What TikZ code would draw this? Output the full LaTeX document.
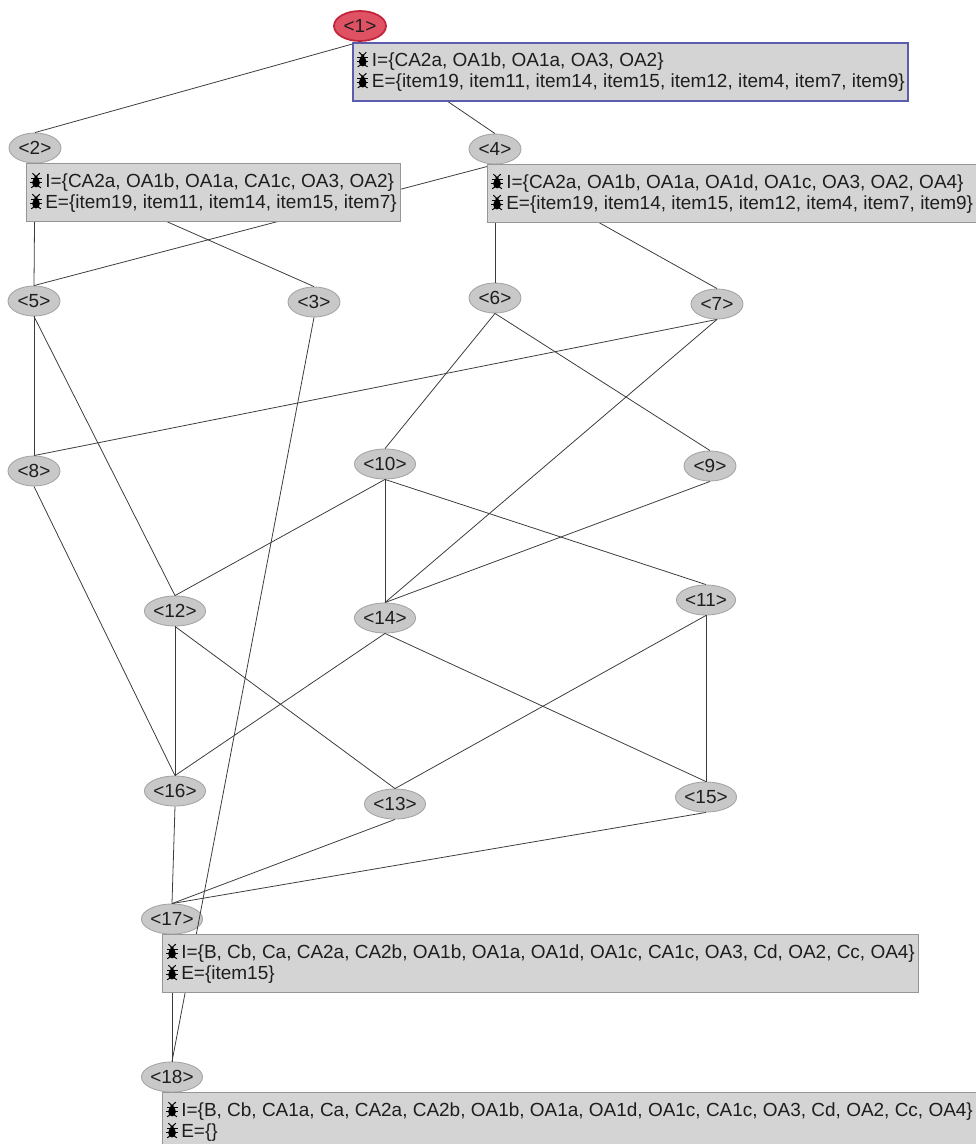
\documentclass[tikz,border=0pt]{standalone}
\usepackage{fontspec}
\setmainfont{Liberation Sans}
\usetikzlibrary{shapes.geometric}
\definecolor{nodefill}{RGB}{200,200,200}
\definecolor{nodeline}{RGB}{165,165,165}
\definecolor{topfill}{RGB}{222,82,100}
\definecolor{topline}{RGB}{196,36,58}
\definecolor{boxfill}{RGB}{212,212,212}
\definecolor{boxline}{RGB}{150,150,150}
\definecolor{selline}{RGB}{92,92,172}
\definecolor{edgecol}{RGB}{60,60,60}
\definecolor{textcol}{RGB}{30,30,30}
\tikzstyle{concept}=[ellipse, draw=nodeline, fill=nodefill, line width=0.5pt, inner sep=0pt, minimum width=1.04cm, minimum height=0.6cm, text=textcol]
\tikzstyle{topconcept}=[concept, draw=topline, fill=topfill, line width=1pt]
\tikzstyle{intent}=[draw=boxline, fill=boxfill, line width=0.5pt, align=left, anchor=north west, inner xsep=2pt, inner ysep=5pt, text=textcol]
\tikzstyle{selintent}=[intent, draw=selline, line width=1.2pt]
\tikzstyle{link}=[draw=edgecol, line width=0.45pt]
\newcommand{\bugicon}{\tikz[x=1pt, y=1pt, baseline=0pt, line width=0.55pt]{
    \fill[black] (3.2,2.9) ellipse (2.2 and 2.7);
    \fill[black] (3.2,6.1) circle (1.1);
    \draw[black] (2.7,6.8) -- (1.1,8.3);
    \draw[black] (3.7,6.8) -- (5.3,8.3);
    \draw[black] (0.1,5.4) -- (6.3,5.4);
    \draw[black] (0,3) -- (6.4,3);
    \draw[black] (0.4,0) -- (3.2,1.8) -- (6,0);}\,}

\begin{document}
\begin{tikzpicture}[x=0.02cm, y=-0.02cm, font=\fontsize{10.8}{12}\selectfont]
        \useasboundingbox (0,0) rectangle (975,1144);
        \node[topconcept] (N1) at (360,26) {<1>};
        \node[concept] (N2) at (35,148) {<2>};
        \node[concept] (N4) at (495,149) {<4>};
        \node[concept] (N5) at (34,301) {<5>};
        \node[concept] (N3) at (314,302) {<3>};
        \node[concept] (N6) at (495,298) {<6>};
        \node[concept] (N7) at (717,304) {<7>};
        \node[concept] (N8) at (34,471) {<8>};
        \node[concept] (N10) at (385,464) {<10>};
        \node[concept] (N9) at (710,466) {<9>};
        \node[concept] (N12) at (175,611) {<12>};
        \node[concept] (N14) at (385,618) {<14>};
        \node[concept] (N11) at (706,600) {<11>};
        \node[concept] (N16) at (175,791) {<16>};
        \node[concept] (N13) at (395,804) {<13>};
        \node[concept] (N15) at (706,797) {<15>};
        \node[concept] (N17) at (172,919) {<17>};
        \node[concept] (N18) at (172,1077) {<18>};
        \draw[link] (N1.south) -- (N2.north);
        \draw[link] (N1.south) -- (N4.north);
        \draw[link] (N2.south) -- (N5.north);
        \draw[link] (N2.south) -- (N3.north);
        \draw[link] (N4.south) -- (N5.north);
        \draw[link] (N4.south) -- (N6.north);
        \draw[link] (N4.south) -- (N7.north);
        \draw[link] (N5.south) -- (N8.north);
        \draw[link] (N5.south) -- (N12.north);
        \draw[link] (N3.south) -- (N18.north);
        \draw[link] (N6.south) -- (N10.north);
        \draw[link] (N6.south) -- (N9.north);
        \draw[link] (N7.south) -- (N8.north);
        \draw[link] (N7.south) -- (N14.north);
        \draw[link] (N8.south) -- (N16.north);
        \draw[link] (N10.south) -- (N12.north);
        \draw[link] (N10.south) -- (N14.north);
        \draw[link] (N10.south) -- (N11.north);
        \draw[link] (N9.south) -- (N14.north);
        \draw[link] (N12.south) -- (N16.north);
        \draw[link] (N12.south) -- (N13.north);
        \draw[link] (N14.south) -- (N16.north);
        \draw[link] (N14.south) -- (N15.north);
        \draw[link] (N11.south) -- (N13.north);
        \draw[link] (N11.south) -- (N15.north);
        \draw[link] (N16.south) -- (N17.north);
        \draw[link] (N13.south) -- (N17.north);
        \draw[link] (N15.south) -- (N17.north);
        \draw[link] (N17.south) -- (N18.north);
        \node[selintent] (I1) at ([xshift=-0.16cm]N1.south) {\bugicon I=\{CA2a, OA1b, OA1a, OA3, OA2\}\\\bugicon E=\{item19, item11, item14, item15, item12, item4, item7, item9\}};
        \node[intent] (I2) at ([xshift=-0.18cm]N2.south) {\bugicon I=\{CA2a, OA1b, OA1a, CA1c, OA3, OA2\}\\\bugicon E=\{item19, item11, item14, item15, item7\}};
        \node[intent] (I4) at ([xshift=-0.16cm]N4.south) {\bugicon I=\{CA2a, OA1b, OA1a, OA1d, OA1c, OA3, OA2, OA4\}\\\bugicon E=\{item19, item14, item15, item12, item4, item7, item9\}};
        \node[intent] (I17) at ([xshift=-0.2cm]N17.south) {\bugicon I=\{B, Cb, Ca, CA2a, CA2b, OA1b, OA1a, OA1d, OA1c, CA1c, OA3, Cd, OA2, Cc, OA4\}\\\bugicon E=\{item15\}};
        \node[intent] (I18) at ([xshift=-0.2cm]N18.south) {\bugicon I=\{B, Cb, CA1a, Ca, CA2a, CA2b, OA1b, OA1a, OA1d, OA1c, CA1c, OA3, Cd, OA2, Cc, OA4\}\\\bugicon E=\{\}};
    \end{tikzpicture}
\end{document}
